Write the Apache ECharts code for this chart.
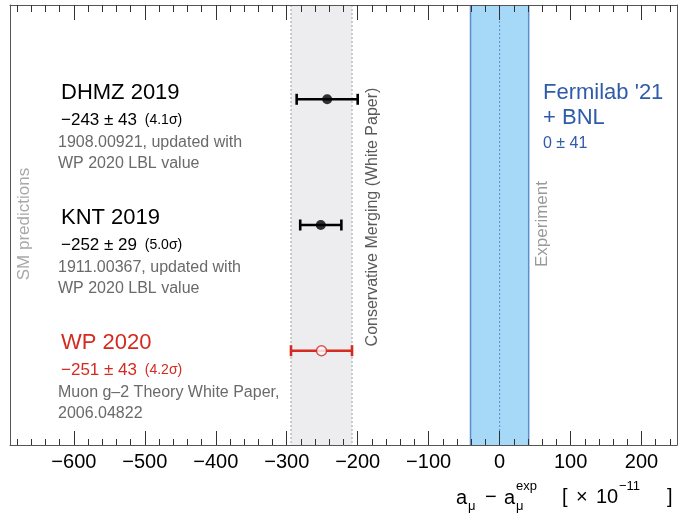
<!DOCTYPE html>
<html><head><meta charset="utf-8">
<script src="https://cdn.jsdelivr.net/npm/echarts@6/dist/echarts.min.js"></script>
<style>html,body{margin:0;padding:0;background:#fff}#c{width:678px;height:521px}</style>
</head><body><div id="c"></div>
<script>
// ---- data ----
const rowSlots = ['top', 'DHMZ 2019', 'gap1', 'KNT 2019', 'gap2', 'WP 2020', 'bottom'];
const predNames = ['DHMZ 2019', 'KNT 2019', 'WP 2020'];
const predValues = [-243, -252, -251];
const predErrors = [43, 29, 43];
const predSigma = ['4.1σ', '5.0σ', '4.2σ'];
const predRefs = [
  ['1908.00921, updated with', 'WP 2020 LBL value'],
  ['1911.00367, updated with', 'WP 2020 LBL value'],
  ['Muon g–2 Theory White Paper,', '2006.04822']
];
const expName = ["Fermilab '21", '+ BNL'];
const expValue = 0;
const expError = 41;
const mergeBand = [-294, -208];
const majorTicks = [-600, -500, -400, -300, -200, -100, 0, 100, 200];
const minorTicks = [];
for (let v = -680; v <= 240; v += 20) minorTicks.push(v);
const xMin = -690, xMax = 250;

// ---- styles ----
const FONT = '"Liberation Sans", Arial, Helvetica, sans-serif';
const predColors = ['#000', '#000', '#d42a20'];
const predValueColors = ['#000', '#000', '#d42a20'];
const predTitleColors = ['#000', '#000', '#d42a20'];
const grayText = '#6a6a6a';
const blueText = '#2e5ca8';
const frameColor = '#555';
const tickColor = '#333';

const minus = v => String(v).replace('-', '−');

const chart = echarts.init(document.getElementById('c'), null, {renderer: 'canvas'});

const gridRect = {left: 10, top: 5, right: 1, bottom: 76};

function xAx(grid, pos, tickVals, len, withLine, withLabel) {
  return {
    type: 'value', gridIndex: grid, position: pos, min: xMin, max: xMax, z: 10,
    splitLine: {show: false}, minorTick: {show: false},
    axisLine: {show: withLine, onZero: false, lineStyle: {color: frameColor, width: 1}},
    axisTick: {show: true, inside: true, length: len, customValues: tickVals, lineStyle: {color: tickColor, width: 1}},
    axisLabel: withLabel ? {show: true, customValues: majorTicks, formatter: v => minus(v), fontSize: 20, color: '#000', margin: 7, fontFamily: FONT} : {show: false}
  };
}

const texts = [];
const rowTitleY = [92.5, 218, 343];
predNames.forEach((n, i) => {
  const y0 = rowTitleY[i];
  texts.push({type: 'text', x: 61, y: y0, style: {text: n, fill: predTitleColors[i], font: '22px ' + FONT, verticalAlign: 'middle'}});
  texts.push({type: 'text', x: 61, y: y0 + 27.5, style: {
    text: '{v|' + minus(predValues[i]) + ' ± ' + predErrors[i] + '}{s|  (' + predSigma[i] + ')}',
    verticalAlign: 'middle',
    rich: {
      v: {fontSize: 17, fontFamily: FONT, fill: predValueColors[i]},
      s: {fontSize: 14, fontFamily: FONT, fill: predValueColors[i]}
    }
  }});
  texts.push({type: 'text', x: 58, y: y0 + 50, style: {text: predRefs[i][0], fill: grayText, font: '16px ' + FONT, verticalAlign: 'middle'}});
  texts.push({type: 'text', x: 58, y: y0 + 71, style: {text: predRefs[i][1], fill: grayText, font: '16px ' + FONT, verticalAlign: 'middle'}});
});
texts.push({type: 'text', x: 543, y: 92.5, style: {text: expName[0], fill: blueText, font: '22px ' + FONT, verticalAlign: 'middle'}});
texts.push({type: 'text', x: 543, y: 118, style: {text: expName[1], fill: blueText, font: '22px ' + FONT, verticalAlign: 'middle'}});
texts.push({type: 'text', x: 543, y: 144, style: {text: minus(expValue) + ' ± ' + expError, fill: blueText, font: '16px ' + FONT, verticalAlign: 'middle'}});
// rotated labels
texts.push({type: 'text', x: 24, y: 224, rotation: Math.PI / 2, style: {text: 'SM predictions', fill: '#a8a8a8', font: '17px ' + FONT, align: 'center', verticalAlign: 'middle'}});
texts.push({type: 'text', x: 373, y: 217, rotation: Math.PI / 2, style: {text: 'Conservative Merging (White Paper)', fill: '#5a5a5a', font: '16px ' + FONT, align: 'center', verticalAlign: 'middle'}});
texts.push({type: 'text', x: 542, y: 224, rotation: Math.PI / 2, style: {text: 'Experiment', fill: '#999', font: '17px ' + FONT, align: 'center', verticalAlign: 'middle'}});
// x-axis name
const nameFont = '20px ' + FONT, smallFont = '13px ' + FONT;
const nm = (t, x, y, f) => ({type: 'text', x: x, y: y, style: {text: t, fill: '#000', font: f, verticalAlign: 'middle'}});
texts.push(nm('a', 456, 498, nameFont));
texts.push(nm('μ', 468, 506, smallFont));
texts.push(nm('−', 485, 497, nameFont));
texts.push(nm('a', 504, 498, nameFont));
texts.push(nm('μ', 516, 506, smallFont));
texts.push(nm('exp', 516, 486, smallFont));
texts.push(nm('[', 562, 497, nameFont));
texts.push(nm('×', 576, 497, nameFont));
texts.push(nm('10', 596, 497, nameFont));
texts.push(nm('−11', 619, 486, smallFont));
texts.push(nm(']', 667, 497, nameFont));

function bandRender(fill, edge, dash, center) {
  return function (params, api) {
    const cs = params.coordSys;
    const x0 = api.coord([api.value(0), 0])[0];
    const x1 = api.coord([api.value(1), 0])[0];
    const children = [
      {type: 'rect', shape: {x: x0, y: cs.y, width: x1 - x0, height: cs.height}, style: {fill: fill}},
      {type: 'line', shape: {x1: x0, y1: cs.y, x2: x0, y2: cs.y + cs.height}, style: {stroke: edge, lineWidth: dash ? 1 : 1.5, lineDash: dash || null}},
      {type: 'line', shape: {x1: x1, y1: cs.y, x2: x1, y2: cs.y + cs.height}, style: {stroke: edge, lineWidth: dash ? 1 : 1.5, lineDash: dash || null}}
    ];
    if (center) {
      const xc = api.coord([api.value(2), 0])[0];
      children.push({type: 'line', shape: {x1: xc, y1: cs.y, x2: xc, y2: cs.y + cs.height}, style: {stroke: center, lineWidth: 1, lineDash: [2, 2]}});
    }
    return {type: 'group', children: children};
  };
}

const option = {
  animation: false,
  backgroundColor: '#fff',
  grid: [Object.assign({}, gridRect), Object.assign({}, gridRect)],
  xAxis: [
    xAx(0, 'bottom', majorTicks, 14, true, true),
    xAx(0, 'top', majorTicks, 15, true, false),
    xAx(1, 'bottom', minorTicks, 6, false, false),
    xAx(1, 'top', minorTicks, 7, false, false)
  ],
  yAxis: [
    {type: 'category', gridIndex: 0, data: rowSlots, inverse: true, position: 'left', z: 10,
     axisLine: {show: true, onZero: false, lineStyle: {color: frameColor, width: 1}},
     axisTick: {show: false}, axisLabel: {show: false}, splitLine: {show: false}},
    {type: 'value', gridIndex: 1, min: 0, max: 1, position: 'right', z: 10,
     axisLine: {show: true, onZero: false, lineStyle: {color: frameColor, width: 1}},
     axisTick: {show: false}, axisLabel: {show: false}, splitLine: {show: false}}
  ],
  series: [
    {type: 'custom', xAxisIndex: 0, yAxisIndex: 0, z: 1, silent: true,
     renderItem: bandRender('#ededf0', '#a0a0a0', [2, 2], null),
     encode: {x: [0, 1], y: 2},
     data: [[mergeBand[0], mergeBand[1], 'top']]},
    {type: 'custom', xAxisIndex: 0, yAxisIndex: 0, z: 1, silent: true,
     renderItem: bandRender('#a6d8f8', '#5b8ed0', null, '#5b8ed0'),
     encode: {x: [0, 1, 2], y: 3},
     data: [[expValue - expError, expValue + expError, expValue, 'top']]},
    {type: 'custom', xAxisIndex: 0, yAxisIndex: 0, z: 3, silent: true,
     encode: {x: 0, y: 1},
     data: predNames.map((n, i) => [predValues[i], n, predErrors[i]]),
     renderItem: function (params, api) {
       const v = api.value(0), yi = api.value(1), e = api.value(2);
       const p0 = api.coord([v - e, yi]);
       const p1 = api.coord([v + e, yi]);
       const col = predColors[params.dataIndex];
       const h = 5.5;
       return {type: 'group', children: [
         {type: 'line', shape: {x1: p0[0], y1: p0[1], x2: p1[0], y2: p1[1]}, style: {stroke: col, lineWidth: 2.6}},
         {type: 'line', shape: {x1: p0[0], y1: p0[1] - h, x2: p0[0], y2: p0[1] + h}, style: {stroke: col, lineWidth: 2.6}},
         {type: 'line', shape: {x1: p1[0], y1: p1[1] - h, x2: p1[0], y2: p1[1] + h}, style: {stroke: col, lineWidth: 2.6}}
       ]};
     }},
    {type: 'scatter', xAxisIndex: 0, yAxisIndex: 0, z: 4, silent: true, symbol: 'circle', symbolSize: 10,
     data: predNames.map((n, i) => ({
       value: [predValues[i], n],
       itemStyle: i === 2 ? {color: '#fff', borderColor: predColors[i], borderWidth: 1.5} : {color: predColors[i]}
     }))}
  ],
  graphic: texts
};
chart.setOption(option);
</script></body></html>
